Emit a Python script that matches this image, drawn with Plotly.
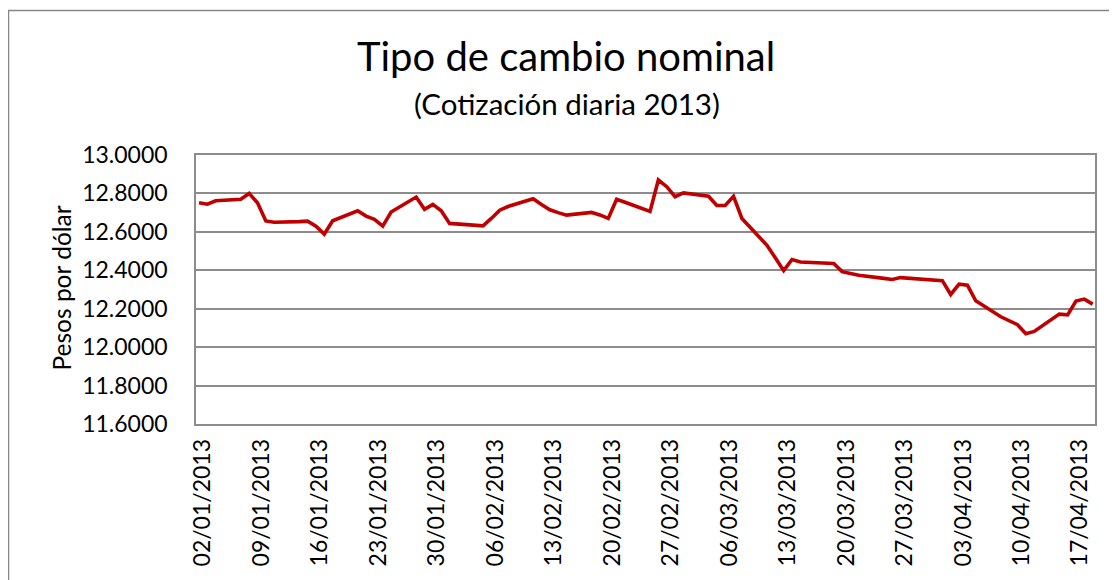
import plotly.graph_objects as go

# ---- data ----
dates = [
    "2013-01-02", "2013-01-03", "2013-01-04", "2013-01-07", "2013-01-08", "2013-01-09",
    "2013-01-10", "2013-01-11", "2013-01-14", "2013-01-15", "2013-01-16", "2013-01-17",
    "2013-01-18", "2013-01-21", "2013-01-22", "2013-01-23", "2013-01-24", "2013-01-25",
    "2013-01-28", "2013-01-29", "2013-01-30", "2013-01-31", "2013-02-01", "2013-02-05",
    "2013-02-06", "2013-02-07", "2013-02-08", "2013-02-11", "2013-02-12", "2013-02-13",
    "2013-02-14", "2013-02-15", "2013-02-18", "2013-02-19", "2013-02-20", "2013-02-21",
    "2013-02-22", "2013-02-25", "2013-02-26", "2013-02-27", "2013-02-28", "2013-03-01",
    "2013-03-04", "2013-03-05", "2013-03-06", "2013-03-07", "2013-03-08", "2013-03-11",
    "2013-03-12", "2013-03-13", "2013-03-14", "2013-03-15", "2013-03-19", "2013-03-20",
    "2013-03-21", "2013-03-22", "2013-03-25", "2013-03-26", "2013-03-27", "2013-04-01",
    "2013-04-02", "2013-04-03", "2013-04-04", "2013-04-05", "2013-04-08", "2013-04-09",
    "2013-04-10", "2013-04-11", "2013-04-12", "2013-04-15", "2013-04-16", "2013-04-17",
    "2013-04-18", "2013-04-19",
]
pesos_por_dolar = [
    12.751, 12.744, 12.762, 12.770, 12.800, 12.751,
    12.657, 12.650, 12.653, 12.656, 12.630, 12.588,
    12.658, 12.710, 12.682, 12.665, 12.630, 12.703,
    12.781, 12.717, 12.743, 12.710, 12.644, 12.631,
    12.670, 12.713, 12.732, 12.772, 12.742, 12.715,
    12.700, 12.687, 12.701, 12.688, 12.670, 12.770,
    12.754, 12.706, 12.870, 12.835, 12.783, 12.803,
    12.785, 12.737, 12.737, 12.785, 12.670, 12.530,
    12.465, 12.398, 12.456, 12.443, 12.435, 12.393,
    12.383, 12.374, 12.358, 12.352, 12.362, 12.346,
    12.274, 12.328, 12.322, 12.241, 12.158, 12.136,
    12.117, 12.070, 12.082, 12.172, 12.168, 12.240,
    12.250, 12.224,
]

title_text = "Tipo de cambio nominal"
subtitle_text = "(Cotización diaria 2013)"
y_title_text = "Pesos por dólar"

FONT = "Lato"
GRID = "#8c8c8c"
LINE_RED = "#C00000"

fig = go.Figure()
fig.add_trace(go.Scatter(
    x=dates, y=pesos_por_dolar, mode="lines",
    line=dict(color=LINE_RED, width=3.6),
    showlegend=False,
))

# page body has an 8px margin, so the figure is drawn offset by 8px
OFF = 8
W, H = 1117 - OFF, 580 - OFF
L, R, T, B = 196 - OFF, 22, 155 - OFF, 580 - 424
pw, ph = W - L - R, H - T - B

def px(x):  # screen px -> paper
    return (x - OFF - L) / pw

def py(y):  # screen px -> paper
    return (H - B - (y - OFF)) / ph

fig.update_layout(
    width=W, height=H,
    margin=dict(l=L, r=R, t=T, b=B, autoexpand=False),
    paper_bgcolor="white", plot_bgcolor="white",
    font=dict(family=FONT, color="black", size=23),
    xaxis=dict(
        type="date",
        range=["2013-01-01 15:20", "2013-04-19 06:40"],
        tick0="2013-01-02", dtick=7 * 86400000,
        tickformat="%d/%m/%Y", tickangle=-90,
        tickfont=dict(family=FONT, size=23, color="black"),
        showgrid=False, zeroline=False,
        showline=True, linecolor=GRID, linewidth=1.5, mirror=True,
        ticks="", ticklabelstandoff=4, ticklabelshift=4,
    ),
    yaxis=dict(
        range=[11.6, 13.0], dtick=0.2, tick0=11.6,
        tickformat=".4f",
        tickfont=dict(family=FONT, size=23, color="black"),
        showgrid=True, gridcolor=GRID, gridwidth=1.5,
        zeroline=False,
        showline=True, linecolor=GRID, linewidth=1.5, mirror=True,
        ticks="", ticklabelstandoff=22,
    ),
    shapes=[dict(
        type="rect", xref="paper", yref="paper",
        x0=px(8.5), x1=px(1110), y0=py(600), y1=py(10.5),
        line=dict(color="#868686", width=1.5), fillcolor="rgba(0,0,0,0)",
        layer="below",
    )],
    annotations=[
        dict(text=title_text, xref="paper", yref="paper", x=px(566), y=py(56),
             showarrow=False, xanchor="center", yanchor="middle",
             font=dict(family=FONT, size=40, color="black")),
        dict(text=subtitle_text, xref="paper", yref="paper", x=px(566.5), y=py(103),
             showarrow=False, xanchor="center", yanchor="middle",
             font=dict(family=FONT, size=29.5, color="black")),
        dict(text=y_title_text, xref="paper", yref="paper", x=px(61), y=py(288.5),
             showarrow=False, xanchor="center", yanchor="middle", textangle=-90,
             font=dict(family=FONT, size=24.5, color="black")),
    ],
)

fig.write_html("out.html")
